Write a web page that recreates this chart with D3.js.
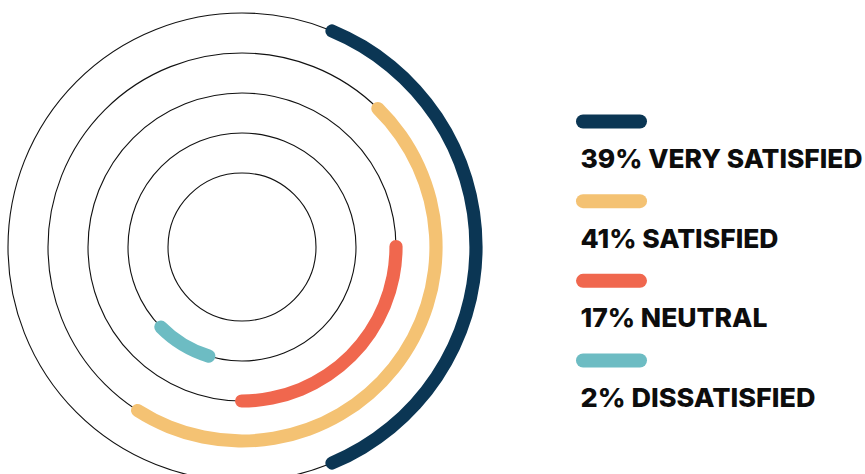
<!DOCTYPE html>
<html>
<head>
<meta charset="utf-8">
<script src="https://cdn.jsdelivr.net/npm/d3@7"></script>
<style>
  html, body { margin: 0; padding: 0; background: #fff; }
  svg { display: block; }
</style>
</head>
<body>
<svg id="chart" width="865" height="474"></svg>
<script>
// survey answers
const categories = ["VERY SATISFIED", "SATISFIED", "NEUTRAL", "DISSATISFIED"];
const percents = [39, 41, 17, 2];
// arc extent on its ring, degrees clockwise from 12 o'clock
const arcStart = [21, 42.5, 87.4, 193.6];
const arcEnd = [159, 214.5, 182.6, 228.7];
// which ring each arc sits on (0 = innermost)
const arcRing = [4, 3, 2, 1];
const rings = [0, 1, 2, 3, 4];

const colors = ["#0b3654", "#f4c273", "#f0674e", "#6dbcc3"];

const svg = d3.select("#chart");
const cx = 242, cy = 247;

const rScale = d3.scaleLinear().domain([0, 4]).range([74, 234]);
const angle = d3.scaleLinear().domain([0, 360]).range([0, 2 * Math.PI]);
const color = d3.scaleOrdinal(categories, colors);

const g = svg.append("g").attr("transform", `translate(${cx},${cy})`);

g.selectAll("circle.ring")
  .data(rings)
  .join("circle")
  .attr("class", "ring")
  .attr("r", d => rScale(d))
  .attr("fill", "none")
  .attr("stroke", "#111")
  .attr("stroke-width", 1.1);

const half = 6.6;
const arc = d3.arc()
  .innerRadius(d => rScale(d.ring) - half)
  .outerRadius(d => rScale(d.ring) + half)
  .startAngle(d => angle(d.start))
  .endAngle(d => angle(d.end))
  .cornerRadius(half);

const arcs = categories.map((c, i) => ({
  cat: c, ring: arcRing[i], start: arcStart[i], end: arcEnd[i]
}));

g.selectAll("path.arc")
  .data(arcs)
  .join("path")
  .attr("class", "arc")
  .attr("d", arc)
  .attr("fill", d => color(d.cat));

// legend
const legendY = d3.scaleLinear().domain([0, 3]).range([121.5, 360.5]);
const textW = [282, 198, 187, 235];

const leg = svg.append("g")
  .selectAll("g")
  .data(categories)
  .join("g")
  .attr("transform", (d, i) => `translate(576,${legendY(i)})`);

leg.append("rect")
  .attr("x", 0)
  .attr("y", -7)
  .attr("width", 71)
  .attr("height", 14)
  .attr("rx", 7)
  .attr("fill", d => color(d));

leg.append("text")
  .attr("x", 4.5)
  .attr("y", 46.5)
  .attr("font-family", "Inter, 'DejaVu Sans', sans-serif")
  .attr("font-weight", 800)
  .attr("font-size", 26)
  .attr("fill", "#0d0d0d")
  .attr("textLength", (d, i) => textW[i])
  .attr("lengthAdjust", "spacingAndGlyphs")
  .text((d, i) => `${percents[i]}% ${d}`);
</script>
</body>
</html>
